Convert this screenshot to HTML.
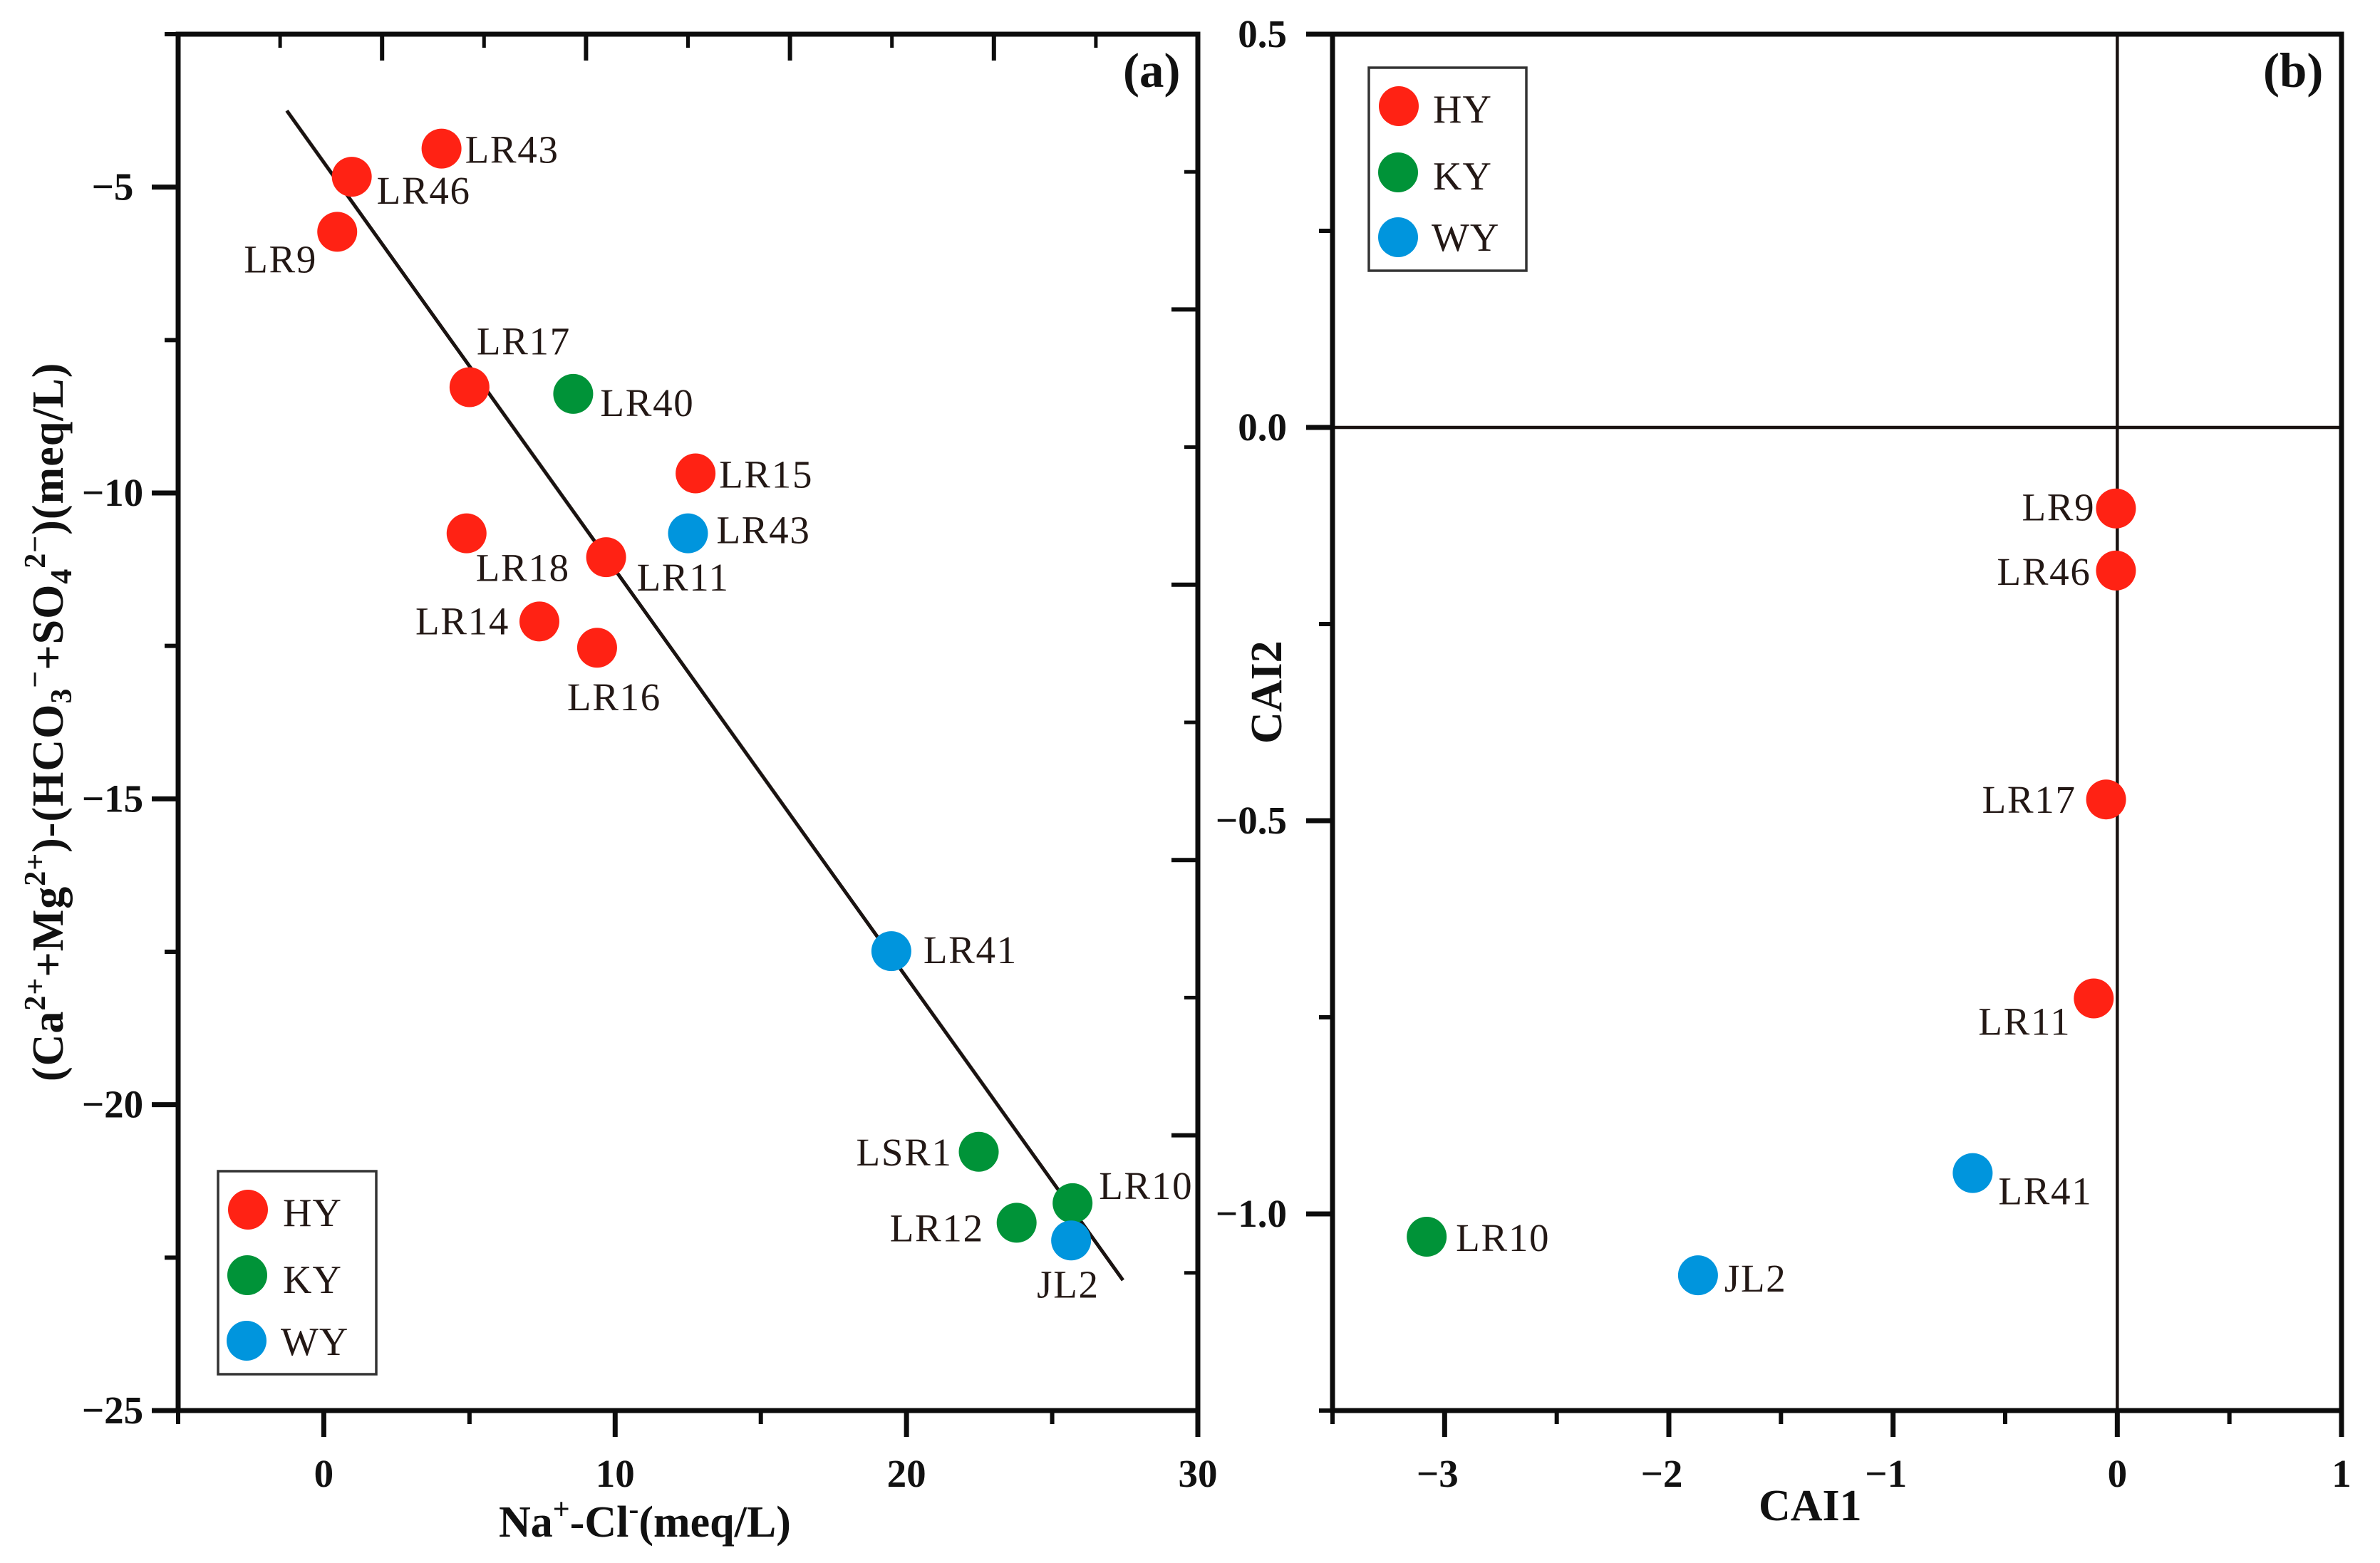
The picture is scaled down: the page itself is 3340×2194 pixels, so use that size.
<!DOCTYPE html>
<html lang="en">
<head>
<meta charset="utf-8">
<title>Ion exchange scatter plots</title>
<style>
html,body{margin:0;padding:0;background:#fff;}
svg{display:block;}
.tick-label{font-family:"Liberation Serif",serif;font-weight:bold;font-size:55px;fill:#111;}
.point-label{font-family:"Liberation Serif",serif;font-size:55px;letter-spacing:1.7px;fill:#231815;}
.legend-label{font-family:"Liberation Serif",serif;font-size:56px;letter-spacing:1px;fill:#231815;}
.title{font-family:"Liberation Serif",serif;font-weight:bold;font-size:62px;fill:#111;}
</style>
</head>
<body>
<svg id="chart" xmlns="http://www.w3.org/2000/svg" width="3340" height="2194" viewBox="0 0 3340 2194">
  <rect x="0" y="0" width="3340" height="2194" fill="#ffffff"/>
  <g id="panel-a"></g>
  <g id="panel-b"></g>

  <text class="title" x="1576" y="122" style="font-size:69px">(a)</text>
  <text class="title" x="3176" y="122" style="font-size:69px">(b)</text>

  <text class="title" x="700" y="2157">Na<tspan font-size="42" dy="-25">+</tspan><tspan dy="25">-Cl</tspan><tspan font-size="42" dy="-25">-</tspan><tspan dy="25">(meq/L)</tspan></text>
  <text class="title" transform="translate(88,1518) rotate(-90)" x="0" y="0" letter-spacing="1">(Ca<tspan font-size="42" dy="-25">2+</tspan><tspan dy="25">+Mg</tspan><tspan font-size="42" dy="-25">2+</tspan><tspan dy="25">)-(HCO</tspan><tspan font-size="42" dy="12">3</tspan><tspan font-size="42" dy="-37">−</tspan><tspan dy="25">+SO</tspan><tspan font-size="42" dy="12">4</tspan><tspan font-size="42" dy="-37">2−</tspan><tspan dy="25">)(meq/L)</tspan></text>
  <text class="title" x="2468" y="2134">CAI1</text>
  <text class="title" transform="translate(1798,1044) rotate(-90)" x="0" y="0">CAI2</text>

  <g id="legend-a">
    <rect x="306" y="1644" width="222" height="285" fill="#fff" stroke="#333" stroke-width="3.5"/>
    <circle cx="348" cy="1698" r="28" fill="#ff2214"/>
    <text class="legend-label" x="397" y="1721">HY</text>
    <circle cx="347" cy="1790" r="28" fill="#009338"/>
    <text class="legend-label" x="397" y="1815">KY</text>
    <circle cx="346" cy="1882" r="28" fill="#0095dd"/>
    <text class="legend-label" x="394" y="1902">WY</text>
  </g>
  <g id="legend-b">
    <rect x="1921" y="95" width="221" height="285" fill="#fff" stroke="#333" stroke-width="3.5"/>
    <circle cx="1963" cy="149" r="28" fill="#ff2214"/>
    <text class="legend-label" x="2011" y="172">HY</text>
    <circle cx="1962" cy="242" r="28" fill="#009338"/>
    <text class="legend-label" x="2011" y="266">KY</text>
    <circle cx="1962" cy="333" r="28" fill="#0095dd"/>
    <text class="legend-label" x="2009" y="352">WY</text>
  </g>
</svg>
<script>
// ---- Panel (a) data ----
const aNames = ['LR43','LR46','LR9','LR17','LR15','LR18','LR11','LR14','LR16','LR40','LSR1','LR12','LR10','LR43','LR41','JL2'];
const aGroups = ['HY','HY','HY','HY','HY','HY','HY','HY','HY','KY','KY','KY','KY','WY','WY','WY'];
const aXValues = [4.04,0.96,0.46,5.0,12.76,4.9,9.69,7.4,9.38,8.56,22.48,23.78,25.7,12.5,19.48,25.65];
const aYValues = [-4.37,-4.83,-5.73,-8.27,-9.68,-10.66,-11.05,-12.1,-12.53,-8.38,-20.77,-21.93,-21.61,-10.66,-17.49,-22.22];
const aFitX = [-1.27,27.43];
const aFitY = [-3.75,-22.87];
const aXTicks = [-5,0,5,10,15,20,25,30];
const aXTickLabels = ['','0','','10','','20','','30'];
const aYTicks = [-2.5,-5,-7.5,-10,-12.5,-15,-17.5,-20,-22.5,-25];
const aYTickLabels = ['','−5','','−10','','−15','','−20','','−25'];

// ---- Panel (b) data ----
const bNames = ['LR9','LR46','LR17','LR11','LR10','LR41','JL2'];
const bGroups = ['HY','HY','HY','HY','KY','WY','WY'];
const bXValues = [-0.006,-0.006,-0.05,-0.105,-3.08,-0.645,-1.87];
const bYValues = [-0.103,-0.182,-0.473,-0.726,-1.029,-0.948,-1.078];
const bXTicks = [-3.5,-3,-2.5,-2,-1.5,-1,-0.5,0,0.5,1];
const bXTickLabels = ['','−3','','−2','','−1','','0','','1'];
const bYTicks = [0.5,0.25,0,-0.25,-0.5,-0.75,-1,-1.25];
const bYTickLabels = ['0.5','','0.0','','−0.5','','−1.0',''];

// ---- Layout (not data) ----
const groupColors = {HY:'#ff2214', KY:'#009338', WY:'#0095dd'};
const aLabelOffsets = [[33,20],[35,38],[-131,57],[10,-46],[33,20],[13,67],[43,47],[-174,18],[-42,88],[38,31],[-172,19],[-178,26],[37,-6],[40,14],[45,17],[-48,80]];
const bLabelOffsets = [[-132,17],[-167,20],[-174,19],[-162,51],[41,20],[36,44],[37,23]];

const NS = 'http://www.w3.org/2000/svg';
function make(tag, attrs, parent) {
  const node = document.createElementNS(NS, tag);
  for (const k in attrs) node.setAttribute(k, attrs[k]);
  parent.appendChild(node);
  return node;
}
function linear(d0, d1, r0, r1) {
  return v => r0 + (v - d0) * (r1 - r0) / (d1 - d0);
}
const AX = 7, MAJOR = 37, MINOR = 19;
const INK = '#0c0c0c';

// ---- Panel (a) ----
const ga = document.getElementById('panel-a');
const ax = linear(-5, 30, 250, 1681);
const ay = linear(-2.5, -25, 48, 1980);

// opposite-axis ticks: ten even divisions, alternating major/minor
const oppositeDivisions = 10;
for (let i = 1; i < oppositeDivisions; i++) {
  const px = 250 + (1681 - 250) * i / oppositeDivisions;
  const len = i % 2 === 0 ? MAJOR : MINOR;
  const topTick = make('line', {x1:px, x2:px, y1:48, y2:48 + len, stroke:INK, 'stroke-width':i % 2 === 0 ? 6 : 5}, ga);
  
  
  const py = 1980 - (1980 - 48) * i / oppositeDivisions;
  const rightTick = make('line', {x1:1681 - len, x2:1681, y1:py, y2:py, stroke:INK, 'stroke-width':i % 2 === 0 ? 6 : 5}, ga);
  
  
}

aXTicks.forEach((v, i) => {
  const major = aXTickLabels[i] !== '';
  const tick = make('line', {x1:ax(v), x2:ax(v), y1:1980, y2:1980 + (major ? MAJOR : MINOR), stroke:INK, 'stroke-width':major ? 7 : 6}, ga);
  
  
  if (major) {
    const t = make('text', {x:ax(v), y:2087, 'text-anchor':'middle', class:'tick-label'}, ga);
    t.textContent = aXTickLabels[i];
    
    
  }
});
aYTicks.forEach((v, i) => {
  const major = aYTickLabels[i] !== '';
  const tick = make('line', {x1:250 - (major ? MAJOR : MINOR), x2:250, y1:ay(v), y2:ay(v), stroke:INK, 'stroke-width':major ? 7 : 6}, ga);
  
  
  if (major) {
    const t = make('text', {x:158, y:ay(v) + 18, 'text-anchor':'middle', class:'tick-label'}, ga);
    t.textContent = aYTickLabels[i];
    
    
  }
});

const aFrame = make('rect', {x:250, y:48, width:1431, height:1932, fill:'none', stroke:INK, 'stroke-width':AX}, ga);



const fit = make('line', {x1:ax(aFitX[0]), y1:ay(aFitY[0]), x2:ax(aFitX[1]), y2:ay(aFitY[1]), stroke:'#1a1311', 'stroke-width':5}, ga);



aNames.forEach((name, i) => {
  const cx = ax(aXValues[i]), cy = ay(aYValues[i]);
  const dot = make('circle', {cx:cx, cy:cy, r:28, fill:groupColors[aGroups[i]]}, ga);
  
  
  const label = make('text', {x:cx + aLabelOffsets[i][0], y:cy + aLabelOffsets[i][1], class:'point-label'}, ga);
  label.textContent = name;
  
  
});

// ---- Panel (b) ----
const gb = document.getElementById('panel-b');
const bx = linear(-3.5, 1, 1870, 3286);
const by = linear(0.5, -1.25, 48, 1980);

bXTicks.forEach((v, i) => {
  const major = bXTickLabels[i] !== '';
  const tick = make('line', {x1:bx(v), x2:bx(v), y1:1980, y2:1980 + (major ? MAJOR : MINOR), stroke:INK, 'stroke-width':major ? 7 : 6}, gb);
  
  
  if (major) {
    const t = make('text', {x:bx(v) - (v < 0 ? 10 : 0), y:2087, 'text-anchor':'middle', class:'tick-label'}, gb);
    t.textContent = bXTickLabels[i];
    
    
  }
});
bYTicks.forEach((v, i) => {
  const major = bYTickLabels[i] !== '';
  const tick = make('line', {x1:1870 - (major ? MAJOR : MINOR), x2:1870, y1:by(v), y2:by(v), stroke:INK, 'stroke-width':major ? 7 : 6}, gb);
  
  
  if (major) {
    const t = make('text', {x:1806, y:by(v) + 18, 'text-anchor':'end', class:'tick-label'}, gb);
    t.textContent = bYTickLabels[i];
    
    
  }
});

const zeroH = make('line', {x1:1870, x2:3286, y1:by(0), y2:by(0), stroke:'#1a1311', 'stroke-width':4.5}, gb);


const zeroV = make('line', {x1:bx(0), x2:bx(0), y1:48, y2:1980, stroke:'#1a1311', 'stroke-width':4.5}, gb);



const bFrame = make('rect', {x:1870, y:48, width:1416, height:1932, fill:'none', stroke:INK, 'stroke-width':AX}, gb);



bNames.forEach((name, i) => {
  const cx = bx(bXValues[i]), cy = by(bYValues[i]);
  const dot = make('circle', {cx:cx, cy:cy, r:28, fill:groupColors[bGroups[i]]}, gb);
  
  
  const label = make('text', {x:cx + bLabelOffsets[i][0], y:cy + bLabelOffsets[i][1], class:'point-label'}, gb);
  label.textContent = name;
  
  
});
</script>
</body>
</html>
